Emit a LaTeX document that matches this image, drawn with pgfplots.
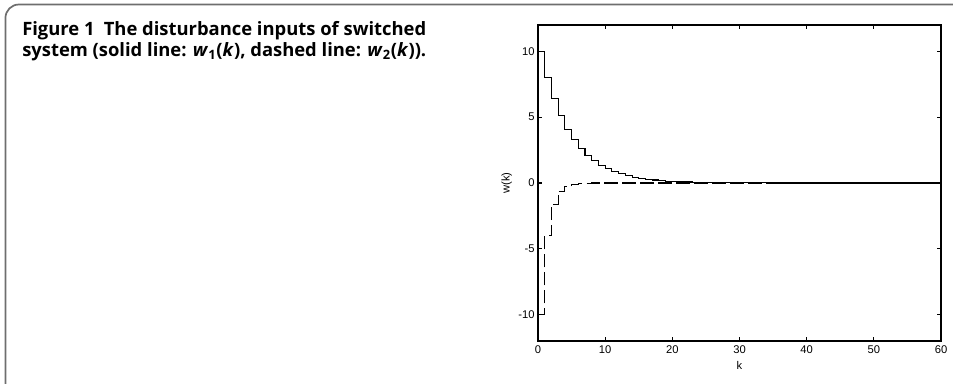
\documentclass[border=0pt]{standalone}
\usepackage{pgfplots}
\pgfplotsset{compat=1.18}
\usepackage{fontspec}
\setmainfont{Liberation Sans}
\newfontfamily\capfont{Open Sans}
\definecolor{framegray}{RGB}{110,110,110}
\begin{document}
\begin{tikzpicture}
\useasboundingbox (0,0) rectangle (714.75pt,288pt);
\draw[framegray, line width=1.3pt, rounded corners=10pt] (720pt,284.6pt) -- (4.1pt,284.6pt) -- (4.1pt,-10pt);
\node[anchor=base west, inner sep=0pt, font=\capfont\bfseries\fontsize{13.8pt}{15pt}\selectfont] at (16.5pt,261pt)
{Figure 1\hspace{0.5em}The disturbance inputs of switched};
\node[anchor=base west, inner sep=0pt, font=\capfont\bfseries\fontsize{13.8pt}{15pt}\selectfont] at (16.5pt,245.5pt)
{system (solid line: \textit{w}\textsubscript{1}(\textit{k}), dashed line: \textit{w}\textsubscript{2}(\textit{k})).};
\begin{axis}[
  at={(403.5pt,32.25pt)}, anchor=south west,
  scale only axis, width=302.25pt, height=237pt,
  xmin=0, xmax=60, ymin=-12, ymax=12,
  xtick={0,10,...,60}, ytick={-10,-5,0,5,10},
  tick align=inside, tick pos=both, major tick length=3pt,
  axis line style={line width=1pt}, tick style={line width=0.8pt, black},
  ticklabel style={font=\fontsize{8.4pt}{10pt}\selectfont},
  /pgf/number format/assume math mode=true,
  xlabel={k}, ylabel={w(k)},
  label style={font=\fontsize{8.4pt}{10pt}\selectfont},
  xlabel style={yshift=1pt}, ylabel style={yshift=-2pt},
  yticklabel style={xshift=1pt},
  clip=true,
]
\addplot[const plot, black, line width=0.8pt, dash pattern=on 10pt off 3.5pt] coordinates {
(0,-10) (1,-4) (2,-1.6) (3,-0.64) (4,-0.256) (5,-0.1024) (6,-0.041) (7,-0.016) (8,0) (60,0)};
\addplot[const plot, black, line width=0.8pt] coordinates {
(0,10) (1,8) (2,6.4) (3,5.12) (4,4.096) (5,3.2768) (6,2.6214) (7,2.0972) (8,1.6777) (9,1.3422)
(10,1.0737) (11,0.8590) (12,0.6872) (13,0.5498) (14,0.4398) (15,0.3518) (16,0.2815) (17,0.2252)
(18,0.1801) (19,0.1441) (20,0.1153) (21,0.0922) (22,0.0738) (23,0.0590) (24,0.0472) (25,0.0378)
(26,0.0302) (27,0.0242) (28,0.0193) (29,0.0155) (30,0.0124) (31,0.0099) (32,0.0079) (33,0.0063)
(34,0.0051) (35,0.0040) (36,0) (60,0)};
\end{axis}
\end{tikzpicture}
\end{document}
